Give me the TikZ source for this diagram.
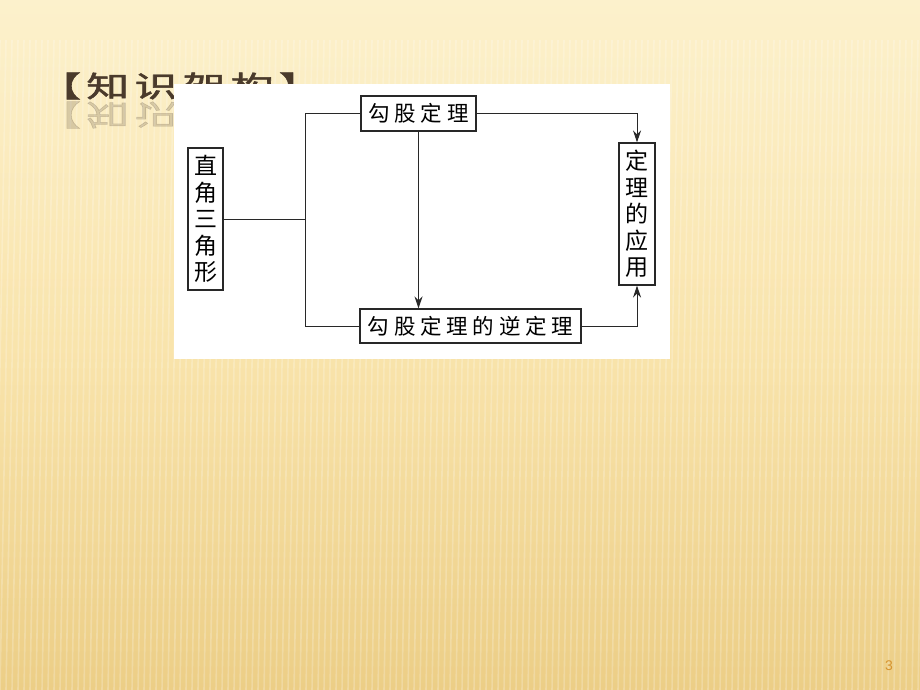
\documentclass[tikz,border=0pt]{standalone}
\usepackage{fontspec}
\usetikzlibrary{arrows.meta}
\newfontfamily\cjk{Noto Sans CJK SC}[LetterSpace=22]
\newfontfamily\cjkv{Noto Sans CJK SC}
\newfontfamily\cjkt{Noto Sans CJK SC}[FakeBold=1.5,LetterSpace=12]
\setmainfont{Liberation Sans}
\definecolor{bgtop}{RGB}{252,241,204}
\definecolor{bgmid}{RGB}{249,228,172}
\definecolor{bgbot}{RGB}{236,206,134}
\definecolor{titlec}{RGB}{74,58,43}
\definecolor{pagec}{RGB}{214,148,48}
\definecolor{linec}{RGB}{40,40,40}
\tikzset{
  box/.style={draw=linec, line width=1.1pt, inner sep=0pt, fill=white},
  conn/.style={draw=linec, line width=1pt},
  arr/.style={conn, -{Stealth[length=12pt,width=8pt]}},
  ttl/.style={anchor=west, text=titlec, font=\cjkt\fontsize{29}{29}\selectfont, inner sep=0pt, xscale=1.48},
}
\begin{document}
\begin{tikzpicture}[x=1pt,y=-1pt]
\useasboundingbox (0,0) rectangle (920,690);
% background
\shade[top color=bgtop, bottom color=bgbot, middle color=bgmid] (0,0) rectangle (920,690);
\foreach \i in {0,6,...,930}{
  \draw[white, opacity=0.22, line width=1.6pt] (\i,40) -- (\i-12,690);
}
% title with reflection
\node[ttl] (title) at (38,86) {【知识架构】};
\node[ttl, opacity=0.2, yscale=-1] (titler) at (38,115) {【知识架构】};
% white panel
\fill[white] (174,84) rectangle (670,359);
% nodes
\node[box, minimum width=115pt, minimum height=35pt, font=\cjk\fontsize{21.5}{21.5}\selectfont] (gg) at (418.5,113.5) {勾股定理};
\node[box, minimum width=35pt, minimum height=142pt, align=center, font=\cjkv\fontsize{23}{26.5}\selectfont] (zj) at (205.5,219) {直\\角\\三\\角\\形};
\node[box, minimum width=36pt, minimum height=142pt, align=center, font=\cjkv\fontsize{23}{26.5}\selectfont] (yy) at (637,214) {定\\理\\的\\应\\用};
\node[box, minimum width=221pt, minimum height=34pt, font=\cjk\fontsize{21.5}{21.5}\selectfont] (ni) at (470.5,326) {勾股定理的逆定理};
% connectors
\coordinate (br) at (305,219);
\draw[conn] (zj.east) -- (br);
\draw[conn] (gg.west) -- (305,113.5) -- (305,326) -- (ni.west);
\draw[arr] (gg.south) -- (gg.south |- ni.north);
\draw[arr] (gg.east) -| (yy.north);
\draw[arr] (ni.east) -| (yy.south);
% page number
\node[text=pagec, font=\fontsize{14}{14}\selectfont, inner sep=0pt] (pg) at (889,666) {3};
\end{tikzpicture}
\end{document}
